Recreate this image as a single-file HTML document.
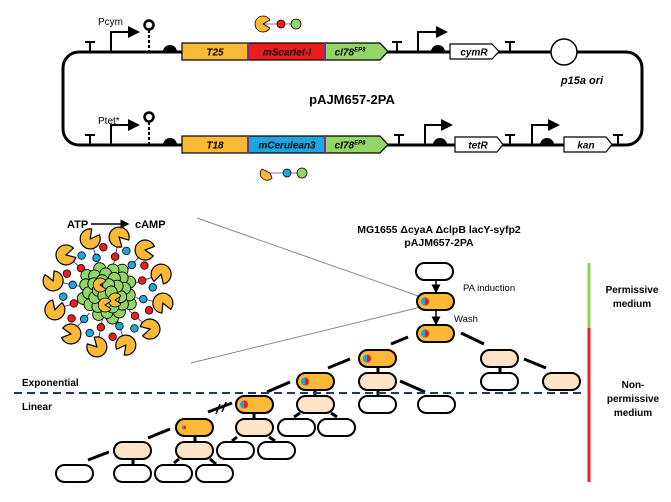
<!DOCTYPE html>
<html><head><meta charset="utf-8"><style>
html,body{margin:0;padding:0;background:#fff;}
svg{display:block;font-family:"Liberation Sans",sans-serif;}
.b{font-weight:bold;}
</style></head><body>
<svg id="s" width="671" height="502" viewBox="0 0 671 502" xmlns="http://www.w3.org/2000/svg">
<defs><marker id="ah" markerWidth="6" markerHeight="6" refX="5" refY="3" orient="auto"><path d="M0,0 L6,3 L0,6z" fill="#000"/></marker></defs>
<rect x="63" y="52" width="579" height="93" rx="16" fill="none" stroke="#000" stroke-width="3"/>
<g id="parts" stroke="#000" stroke-width="2" fill="none">
<path d="M90,52 V42 M85,42 H95 M397,52 V42 M392,42 H402 M510,52 V42 M505,42 H515"/>
<path d="M90,145 V135 M85,135 H95 M399,145 V135 M394,135 H404 M510,145 V135 M505,135 H515 M618,145 V135 M613,135 H623"/>
<path d="M111,52 V32 H138" marker-end="url(#ah)"/>
<path d="M418,52 V32 H446" marker-end="url(#ah)"/>
<path d="M111,145 V125 H138" marker-end="url(#ah)"/>
<path d="M425,145 V125 H451" marker-end="url(#ah)"/>
<path d="M532,145 V125 H558" marker-end="url(#ah)"/>
<path d="M149,30 V52" stroke-dasharray="3,2"/><circle cx="149" cy="25" r="4.5" stroke-width="2.5" fill="#fff"/>
<path d="M149,122 V145" stroke-dasharray="3,2"/><circle cx="149" cy="117" r="4.5" stroke-width="2.5" fill="#fff"/>
</g>
<g fill="#000">
<path d="M163,52 A7,7 0 0 1 177,52z"/><path d="M431,52 A7,7 0 0 1 445,52z"/>
<path d="M163,145 A7,7 0 0 1 177,145z"/><path d="M433,145 A7,7 0 0 1 447,145z"/><path d="M540,145 A7,7 0 0 1 554,145z"/>
</g>
<g stroke="#000" stroke-width="1.2">
<rect x="182" y="43" width="66" height="17" fill="#fcb935"/>
<rect x="248" y="43" width="77" height="17" fill="#ee1c1c"/>
<path d="M325,43 H380 L388,51.5 L380,60 H325z" fill="#92d667"/>
<path d="M450,44 H492 L499,51.5 L492,59 H450z" fill="#fff"/>
<rect x="182" y="136" width="66" height="17" fill="#fcb935"/>
<rect x="248" y="136" width="77" height="17" fill="#1ca7e0"/>
<path d="M325,136 H380 L388,144.5 L380,153 H325z" fill="#92d667"/>
<path d="M455,137 H497 L503,144.5 L497,152 H455z" fill="#fff"/>
<path d="M564,137 H606 L612,144.5 L606,152 H564z" fill="#fff"/>
</g>
<g stroke="#7030a0" stroke-width="2"><path d="M248,43V60 M325,43V60 M248,136V153 M325,136V153"/></g>
<circle cx="564" cy="52" r="13" fill="#fff" stroke="#000" stroke-width="1.5"/>
<g font-size="10" font-style="italic" font-weight="bold" text-anchor="middle">
<text x="215" y="55.5">T25</text><text x="287" y="55.5">mScarlet-I</text><text x="350" y="55.5">cI78<tspan font-size="6" dy="-4">EP8</tspan></text>
<text x="474" y="55.5">cymR</text>
<text x="215" y="148.5">T18</text><text x="287" y="148.5">mCerulean3</text><text x="350" y="148.5">cI78<tspan font-size="6" dy="-4">EP8</tspan></text>
<text x="478" y="148.5">tetR</text><text x="586" y="148.5">kan</text>
<text x="582" y="84" font-size="11">p15a ori</text>
</g>
<text x="98" y="25" font-size="10">Pcym</text>
<text x="98" y="124" font-size="10">Ptet*</text>
<text x="352" y="104" font-size="13" class="b" text-anchor="middle">pAJM657-2PA</text>
<g stroke="#000" stroke-width="0.8">
<line x1="263" y1="24" x2="296" y2="24" stroke="#7030a0"/>
<path d="M263,24 L270,20 A8,8 0 1 0 270,28z" fill="#fcb935"/>
<circle cx="281" cy="24" r="4" fill="#ee1c1c"/><circle cx="296" cy="24" r="5" fill="#92d667"/>
<line x1="268" y1="173" x2="302" y2="173" stroke="#7030a0"/>
<path d="M270,173 L262,169 A6,6 0 0 0 272,178z" fill="#fcb935"/>
<circle cx="287" cy="173" r="4" fill="#1ca7e0"/><circle cx="302" cy="173" r="5" fill="#92d667"/>
</g>
<g id="cluster"></g>
<text x="67" y="228" font-size="11" class="b">ATP</text>
<line x1="91" y1="224" x2="128" y2="224" stroke="#000" stroke-width="1.5" marker-end="url(#ah)"/>
<text x="135" y="228" font-size="11" class="b">cAMP</text>
<line x1="197" y1="218" x2="421" y2="297" stroke="#888" stroke-width="1"/>
<line x1="191" y1="363" x2="421" y2="307" stroke="#888" stroke-width="1"/>
<text x="439" y="233" font-size="10.5" class="b" text-anchor="middle">MG1655 ΔcyaA ΔclpB lacY-syfp2</text>
<text x="439" y="246" font-size="10.5" class="b" text-anchor="middle">pAJM657-2PA</text>
<text x="463" y="291" font-size="9.5">PA induction</text>
<text x="454" y="322" font-size="9.5">Wash</text>
<line x1="436" y1="280" x2="436" y2="292" stroke="#000" stroke-width="1.5" marker-end="url(#ah)"/>
<line x1="436" y1="310" x2="436" y2="324" stroke="#000" stroke-width="1.5" marker-end="url(#ah)"/>
<g id="conn" stroke="#000" stroke-width="3"></g>
<g id="cells"></g>
<line x1="14" y1="393" x2="586" y2="393" stroke="#1f3864" stroke-width="2" stroke-dasharray="8,5"/>
<text x="22" y="386" font-size="10" class="b">Exponential</text>
<text x="22" y="410" font-size="10" class="b">Linear</text>
<line x1="589" y1="263" x2="589" y2="328" stroke="#92d050" stroke-width="3"/>
<line x1="589" y1="328" x2="589" y2="482" stroke="#ee2020" stroke-width="3"/>
<g font-size="10" class="b" text-anchor="middle">
<text x="632" y="293">Permissive</text><text x="632" y="307">medium</text>
<text x="633" y="388">Non-</text><text x="633" y="402">permissive</text><text x="633" y="416">medium</text>
</g>
</svg>
<script>
var NS="http://www.w3.org/2000/svg";
function el(p,t,a){var e=document.createElementNS(NS,t);for(var k in a)e.setAttribute(k,a[k]);p.appendChild(e);return e;}
var cells=document.getElementById('cells');
var O="#fcb935",P="#fde3c8",W="#fff";
var C=[[416,263,W],[417,293,O,1],[417,325,O,1],[359,350,O,1],[481,350,P],
[297,373,O,1],[359,373,P],[481,373,W],[543,373,P],
[236,396,O,1],[297,396,P],[359,396,W],[418,396,W],
[176,419,O,2],[236,419,P],[278,419,W],[318,419,W],
[114,442,P],[176,442,P],[217,442,W],[258,442,W],
[56,465,W],[114,465,W],[155,465,W],[196,465,W]];
C.forEach(function(c){el(cells,'rect',{x:c[0],y:c[1],width:37,height:17,rx:8.5,fill:c[2],stroke:'#000','stroke-width':2});
if(c[3]){var r=c[3]==2?2:4;el(cells,'circle',{cx:c[0]+8,cy:c[1]+8.5,r:r,fill:'#ee1c1c'});el(cells,'path',{d:'M'+(c[0]+8)+','+(c[1]+8.5-r)+' A'+r+','+r+' 0 0 0 '+(c[0]+8)+','+(c[1]+8.5+r)+'z',fill:'#1ca7e0'});}});
var L=[[391,344,408,337],[461,333,484,344],[328,368,350,359],[378,367,378,372],[500,367,500,372],[524,359,546,368],
[267,392,290,382],[315,390,315,396],[378,390,378,396],[400,381,425,392],[208,412,232,403],[254,413,254,419],
[294,417,300,413],[331,413,337,417],[148,438,170,429],[195,436,195,442],[232,441,237,437],[269,437,275,441],
[88,460,109,452],[133,459,133,465],[174,463,179,459],[210,459,216,464]];
var cn=document.getElementById('conn');
L.forEach(function(l){el(cn,'line',{x1:l[0],y1:l[1],x2:l[2],y2:l[3]});});
el(cn,'path',{d:'M216,414 L220,404 M222,412 L226,402','stroke-width':1.5,stroke:'#000'});
var g=document.getElementById('cluster'),cx=108,cy=292;
for(var i=0;i<12;i++){var a=i/12*Math.PI*2+0.2;
el(g,'line',{x1:cx+Math.cos(a)*28,y1:cy+Math.sin(a)*28,x2:cx+Math.cos(a)*52,y2:cy+Math.sin(a)*52,stroke:'#7030a0','stroke-width':1});
var col=i%2?'#ee1c1c':'#1ca7e0',col2=i%2?'#1ca7e0':'#ee1c1c';
el(g,'circle',{cx:cx+Math.cos(a)*36,cy:cy+Math.sin(a)*36,r:3.8,fill:col,stroke:'#000','stroke-width':0.8});
el(g,'circle',{cx:cx+Math.cos(a+0.22)*45,cy:cy+Math.sin(a+0.22)*45,r:3.8,fill:col2,stroke:'#000','stroke-width':0.8});
var px=cx+Math.cos(a)*56,py=cy+Math.sin(a)*56,r=10,m=a+Math.PI/2+(i%2?0.6:-0.6);
el(g,'path',{d:'M'+px+','+py+' L'+(px+r*Math.cos(m-0.5))+','+(py+r*Math.sin(m-0.5))+' A'+r+','+r+' 0 1 0 '+(px+r*Math.cos(m+0.5))+','+(py+r*Math.sin(m+0.5))+'z',fill:O,stroke:'#000','stroke-width':1.2});}
var pts=[];for(var k=0;k<34;k++){var rr=27*Math.sqrt((k+0.5)/34),t=k*2.4;pts.push([cx+rr*Math.cos(t),cy+rr*Math.sin(t)]);}
pts.reverse().forEach(function(p,j){el(g,'circle',{cx:p[0],cy:p[1],r:6,fill:'#92d667',stroke:'#000','stroke-width':0.9});});
[[100,285],[115,300],[105,305]].forEach(function(p){el(g,'path',{d:'M'+p[0]+','+p[1]+' l6,-4 a7,7 0 1 0 0,8z',fill:O,stroke:'#000','stroke-width':0.8});});
</script>
</body></html>
